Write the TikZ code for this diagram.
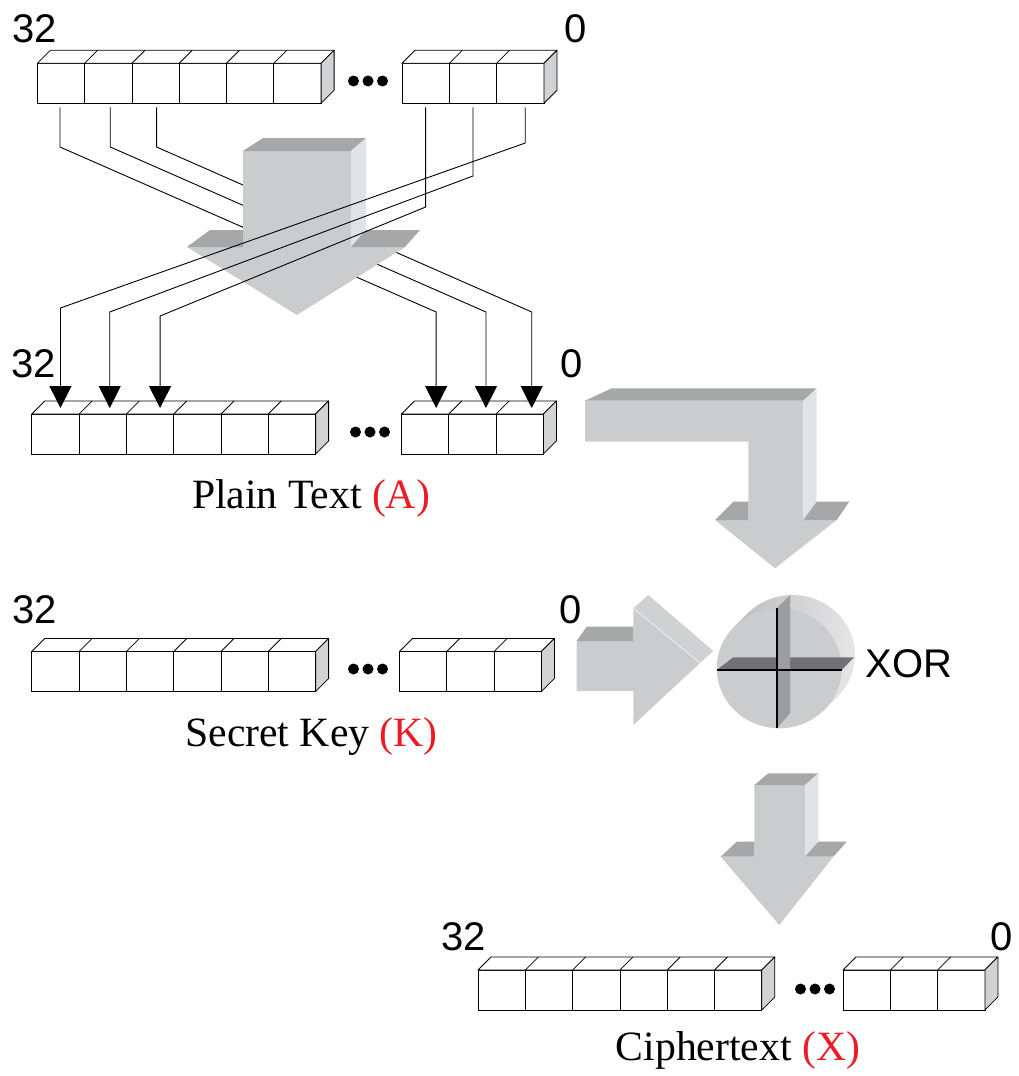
\documentclass[tikz,border=0pt]{standalone}
\usepackage{fontspec}
\setmainfont{Liberation Serif}
\setsansfont{Liberation Sans}
\usetikzlibrary{calc,arrows.meta}

\definecolor{facegray}{RGB}{203,204,206}
\definecolor{topgray}{RGB}{166,167,169}
\definecolor{sidegray}{RGB}{226,227,228}
\definecolor{cellside}{RGB}{209,210,211}
\definecolor{plategray}{RGB}{156,157,159}
\definecolor{bargray}{RGB}{113,114,116}
\definecolor{rimdark}{RGB}{188,189,191}
\definecolor{rimlight}{RGB}{233,233,234}
\definecolor{labelred}{RGB}{237,28,36}

\newcommand\cellw{47.3}
\newcommand\celld{13}

\tikzset{
  cell/.style={draw, fill=white, line width=0.8pt, minimum width=47.3pt,
    minimum height=40pt, inner sep=0pt, outer sep=0pt},
  cellface/.style={line width=0.8pt, line join=round},
  numlabel/.style={font=\sffamily\fontsize{40}{40}\selectfont, inner sep=0pt, anchor=base},
  namelabel/.style={font=\fontsize{41.7}{42}\selectfont, inner sep=0pt, anchor=base},
  wire/.style={line width=0.9pt, line join=miter, -{Triangle[width=22pt,length=22pt]}},
  front/.style={fill=facegray},
  topface/.style={fill=topgray},
  sideface/.style={fill=sidegray},
}

% a group of bit cells: name prefix, first index, last index, left x, top y
\newcommand\bitgroup[5]{%
  \foreach \k in {#2,...,#3}{
    \node[cell] (#1\k) at ({#4+(\k-#2+0.5)*\cellw}, {#5+20}) {};
  }
  \filldraw[cellface, fill=white] (#1#2.north west) -- ++(\celld,-\celld)
    -- ($(#1#3.north east)+(\celld,-\celld)$) -- (#1#3.north east) -- cycle;
  \foreach \k in {#2,...,#3}{
    \draw[cellface] (#1\k.north east) -- ++(\celld,-\celld);
  }
  \filldraw[cellface, fill=cellside] (#1#3.north east) -- ++(\celld,-\celld)
    -- ($(#1#3.south east)+(\celld,-\celld)$) -- (#1#3.south east) -- cycle;
}

% the three dots between two groups of cells
\newcommand\gapdots[2]{%
  \foreach \dx in {-14.5,0,14.5} \fill ({#1+\dx},#2) circle (5.5pt);
}

\begin{document}
\begin{tikzpicture}[x=1pt, y=-1pt]
\useasboundingbox (0,0) rectangle (1019,1076);

% ---------- registers ----------
\bitgroup{t}{1}{6}{37.3}{63.3}
\bitgroup{t}{7}{9}{402}{63.3}
\gapdots{368}{81}
\node[numlabel] (t32) at (35,42) {32};
\node[numlabel] (t0) at (576,42) {0};

\bitgroup{p}{1}{6}{31.8}{414}
\bitgroup{p}{7}{9}{401.5}{414}
\gapdots{370}{432}
\node[numlabel] (p32) at (33.5,377) {32};
\node[numlabel] (p0) at (572,377) {0};
\node[namelabel] (plainlbl) at (311,508) {Plain Text \textcolor{labelred}{(A)}};

\bitgroup{k}{1}{6}{31.8}{651.5}
\bitgroup{k}{7}{9}{399.5}{651.5}
\gapdots{368}{669}
\node[numlabel] (k32) at (34.5,623) {32};
\node[numlabel] (k0) at (571,623) {0};
\node[namelabel] (keylbl) at (311.5,746) {Secret Key \textcolor{labelred}{(K)}};

\bitgroup{c}{1}{6}{478}{970}
\bitgroup{c}{7}{9}{843}{970}
\gapdots{815}{989}
\node[numlabel] (c32) at (463.5,950) {32};
\node[numlabel] (c0) at (1002,950) {0};
\node[namelabel] (cipherlbl) at (738,1060) {Ciphertext \textcolor{labelred}{(X)}};

% ---------- wire end points ----------
\coordinate (s1) at ($(t1.south)+(-1,4)$);
\coordinate (s2) at ($(t2.south)+(2,4)$);
\coordinate (s3) at ($(t3.south)+(1,4)$);
\coordinate (s7) at ($(t7.south)+(0,4)$);
\coordinate (s8) at ($(t8.south)+(0,4)$);
\coordinate (s9) at ($(t9.south)+(5,4)$);
\coordinate (e1) at ($(p1.north)+(5,-6)$);
\coordinate (e2) at ($(p2.north)+(7,-6)$);
\coordinate (e3) at ($(p3.north)+(10,-6)$);
\coordinate (e7) at ($(p7.north)+(11,-6)$);
\coordinate (e8) at ($(p8.north)+(13.5,-6)$);
\coordinate (e9) at ($(p9.north)+(12,-6)$);

% wires that run behind the permutation arrow
\draw[wire] (s1) -- (s1 |- 0,147) -- (e7 |- 0,312) -- (e7);
\draw[wire] (s2) -- (s2 |- 0,147) -- (e8 |- 0,312) -- (e8);
\draw[wire] (s3) -- (s3 |- 0,147) -- (e9 |- 0,312) -- (e9);

% ---------- permutation arrow ----------
\fill[front] (243,151) -- (351,151) -- (351,247) -- (405,247) -- (297,315)
  -- (187,247) -- (243,247) -- cycle;
\fill[topface] (243,151) -- (263,138) -- (366,138) -- (351,151) -- cycle;
\fill[sideface] (351,151) -- (366,138) -- (366,230) -- (351,247) -- cycle;
\fill[topface] (187,247) -- (210,230) -- (243,230) -- (243,247) -- cycle;
\fill[topface] (351,247) -- (366,230) -- (420,230) -- (405,247) -- cycle;

% wires that run in front of it
\draw[wire] (s9) -- (s9 |- 0,143) -- (e1 |- 0,308) -- (e1);
\draw[wire] (s8) -- (s8 |- 0,176) -- (e2 |- 0,312) -- (e2);
\draw[wire] (s7) -- (s7 |- 0,207) -- (e3 |- 0,316) -- (e3);

% ---------- bent arrow from plain text to XOR ----------
\fill[front] (585,400.7) -- (803.3,400.7) -- (803.3,520) -- (836.7,520) -- (775,568.3)
  -- (715,520) -- (748.3,520) -- (748.3,441.7) -- (585,441.7) -- cycle;
\fill[topface] (585,400.7) -- (611.7,388.3) -- (816.7,388.3) -- (803.3,400.7) -- cycle;
\fill[sideface] (803.3,400.7) -- (816.7,388.3) -- (816.7,501.7) -- (803.3,520) -- cycle;
\fill[topface] (715,520) -- (733.3,501.7) -- (748.3,501.7) -- (748.3,520) -- cycle;
\fill[topface] (803.3,520) -- (816.7,501.7) -- (849.3,501.7) -- (836.7,520) -- cycle;

% ---------- arrow from secret key to XOR ----------
\fill[front] (576.7,641) -- (633.3,641) -- (633.3,608.3) -- (700,663) -- (633.3,725)
  -- (633.3,691) -- (576.7,691) -- cycle;
\fill[topface] (576.7,641) -- (586.7,626.7) -- (633.3,626.7) -- (633.3,641) -- cycle;
\fill[facegray!90!white] (633.3,608.3) -- (648.3,595) -- (713.3,651) -- (700,663) -- cycle;
\draw[white!85!facegray, line width=0.6pt] (633.3,608.3) -- (700,663);

% ---------- XOR element ----------
\shade[left color=rimdark, right color=rimlight]
  (735,625.9) -- (748.3,612.6)
  arc[start angle=-135, end angle=45, x radius=62.5, y radius=60]
  -- (823.4,710.7) -- cycle;
\fill[front] (779.2,668.3) ellipse [x radius=62.5, y radius=60];
\fill[bargray] (716.7,670) -- (733.3,657.3) -- (854,657.3) -- (841.7,670) -- cycle;
\fill[plategray] (776.7,608.3) -- (790,595) -- (790,713.3) -- (776.7,728.3) -- cycle;
\draw[line width=1.8pt] (716.7,670) -- (841.7,670);
\draw[line width=1.8pt] (776.7,608.3) -- (776.7,728.3);
\node[numlabel] (xorlbl) at (909,677) {XOR};

% ---------- arrow from XOR to ciphertext ----------
\fill[front] (754.3,785) -- (805,785) -- (805,856.7) -- (833.3,856.7) -- (779.3,925)
  -- (720.7,856.7) -- (754.3,856.7) -- cycle;
\fill[topface] (754.3,785) -- (768.3,773.3) -- (818.3,773.3) -- (805,785) -- cycle;
\fill[sideface] (805,785) -- (818.3,773.3) -- (818.3,841.7) -- (805,856.7) -- cycle;
\fill[topface] (720.7,856.7) -- (736.7,841.7) -- (754.3,841.7) -- (754.3,856.7) -- cycle;
\fill[topface] (805,856.7) -- (818.3,841.7) -- (846.7,841.7) -- (833.3,856.7) -- cycle;

\end{tikzpicture}
\end{document}
